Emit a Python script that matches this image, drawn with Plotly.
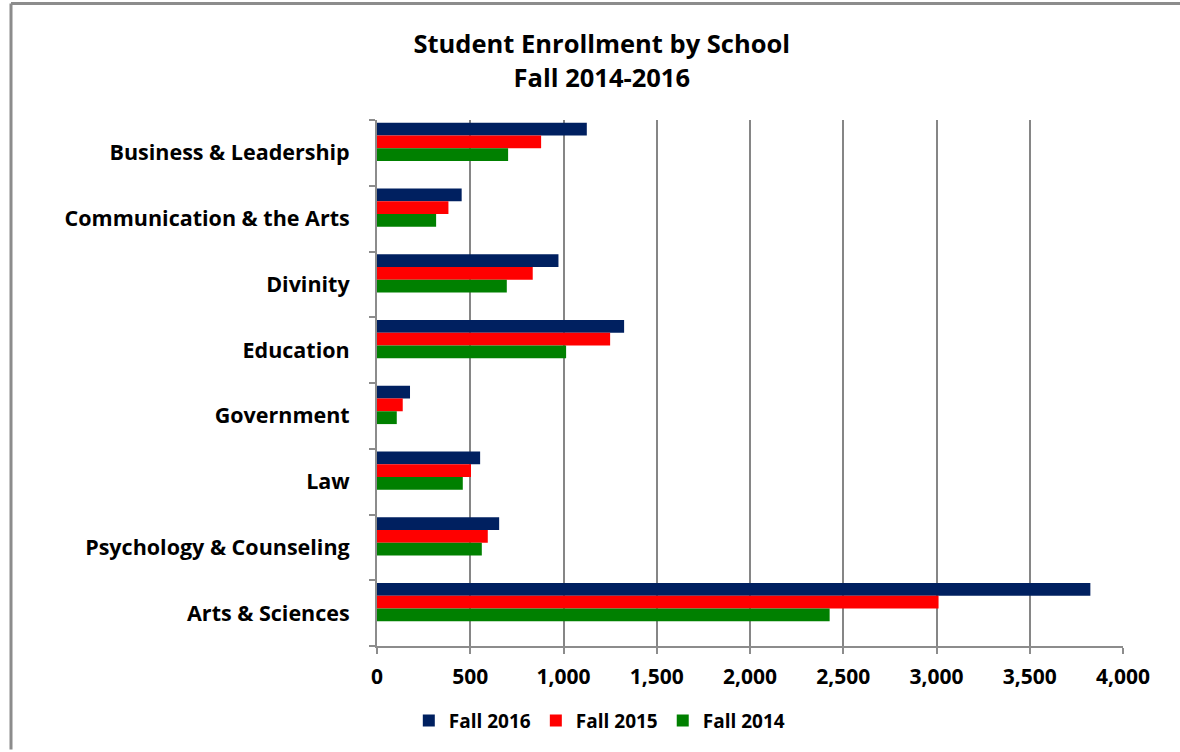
import plotly.graph_objects as go

schools = ["Business & Leadership", "Communication & the Arts", "Divinity", "Education",
           "Government", "Law", "Psychology & Counseling", "Arts & Sciences"]
fall_2016 = [1125, 454, 973, 1325, 177, 553, 655, 3825]
fall_2015 = [880, 383, 835, 1250, 138, 504, 594, 3011]
fall_2014 = [703, 317, 696, 1014, 106, 460, 562, 2427]
x_ticks = [0, 500, 1000, 1500, 2000, 2500, 3000, 3500, 4000]

series = [("Fall 2016", fall_2016, "#002060"),
          ("Fall 2015", fall_2015, "#FF0000"),
          ("Fall 2014", fall_2014, "#008000")]

FONT = "Open Sans, sans-serif"
BAR_W = 0.195          # bar thickness in category units
GROUP_TOP = -0.46      # group sits toward the top of each band (3D perspective look)

fig = go.Figure()
for i, (name, vals, col) in enumerate(series):
    fig.add_trace(go.Bar(y=schools, x=vals, name="<b>%s</b>" % name, orientation="h",
                         width=BAR_W, offset=GROUP_TOP + i * BAR_W,
                         marker=dict(color=col, line=dict(width=0))))

fig.update_layout(
    width=1180, height=752,
    paper_bgcolor="white", plot_bgcolor="white",
    margin=dict(l=377, r=57, t=120, b=104),
    barmode="overlay",
    font=dict(family=FONT, color="black"),
    title=dict(text="<b>Student Enrollment by School<br>Fall 2014-2016</b>",
               x=0.51, xanchor="center", y=0.929, yanchor="middle",
               font=dict(family=FONT, size=25.5, color="black")),
    legend=dict(orientation="h", x=0.298, xanchor="center", y=-0.142, yanchor="middle",
                font=dict(family=FONT, size=19, color="black"),
                traceorder="normal", itemsizing="constant"),
    showlegend=True,
)
fig.update_xaxes(range=[0, 4000], tickvals=x_ticks,
                 ticktext=["<b>{:,}</b>".format(v) for v in x_ticks],
                 showgrid=True, gridcolor="#868686", gridwidth=2,
                 showline=True, linecolor="#8c8c8c", linewidth=2,
                 ticks="outside", ticklen=6, tickcolor="#8c8c8c", tickwidth=2,
                 ticklabelstandoff=5,
                 tickfont=dict(family=FONT, size=21, color="black"),
                 zeroline=False)
fig.update_yaxes(autorange="reversed", showgrid=False,
                 tickvals=schools, ticktext=["<b>%s</b>" % s for s in schools],
                 showline=True, linecolor="#8c8c8c", linewidth=2,
                 ticks="outside", ticklen=6, tickcolor="#8c8c8c", tickwidth=2,
                 tickson="boundaries", ticklabelstandoff=21,
                 tickfont=dict(family=FONT, size=21.5, color="black"))

# outer chart border (top and left)
fig.add_shape(type="line", xref="paper", yref="paper",
              x0=(11 - 377) / 746, x1=(1180 - 377) / 746,
              y0=1 + 117 / 528, y1=1 + 117 / 528,
              line=dict(color="#8c8c8c", width=3))
fig.add_shape(type="line", xref="paper", yref="paper",
              x0=(11 - 377) / 746, x1=(11 - 377) / 746,
              y0=1 + 117 / 528, y1=-104 / 528,
              line=dict(color="#8c8c8c", width=3))

fig.write_html("out.html", config={"displayModeBar": False},
               post_script="document.body.style.margin='0';")
